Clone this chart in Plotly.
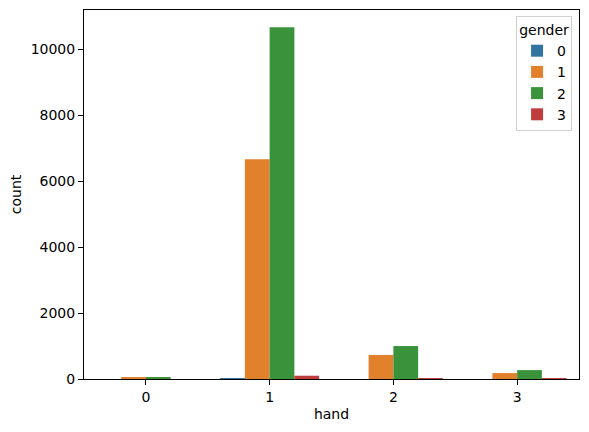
import plotly.graph_objects as go

# Seaborn countplot: count of rows per hand, split by gender.
hands = ["0", "1", "2", "3"]
genders = ["0", "1", "2", "3"]
counts = {
    "0": [0, 30, 0, 0],
    "1": [60, 6670, 730, 180],
    "2": [60, 10680, 1000, 270],
    "3": [0, 100, 30, 30],
}
colors = ["#3274a1", "#e1812c", "#3a923a", "#c03d3e"]
y_ticks = [0, 2000, 4000, 6000, 8000, 10000]

_FONT = "DejaVu Sans, sans-serif"
_SIZE = 14

fig = go.Figure()
for g, c in zip(genders, colors):
    fig.add_trace(
        go.Bar(
            x=hands,
            y=counts[g],
            name=g,
            marker=dict(color=c, line=dict(width=0)),
        )
    )

# page body adds an 8px offset, so margins are shifted to compensate
fig.update_layout(
    width=589,
    height=432,
    margin=dict(l=76, r=18, t=2, b=61),
    paper_bgcolor="white",
    plot_bgcolor="white",
    font=dict(family=_FONT, size=_SIZE, color="black"),
    barmode="group",
    bargap=0.2,
    bargroupgap=0,
    legend=dict(
        title=dict(text="gender", side="top center", font=dict(size=_SIZE)),
        x=0.986,
        y=0.984,
        xanchor="right",
        yanchor="top",
        bgcolor="rgba(255,255,255,0.8)",
        bordercolor="#d0d0d0",
        borderwidth=1,
        font=dict(size=_SIZE),
        itemwidth=30,
        tracegroupgap=0,
    ),
)
axis_style = dict(
    showline=True,
    linecolor="black",
    linewidth=1,
    mirror=True,
    ticks="outside",
    ticklen=5,
    tickcolor="black",
    tickfont=dict(family=_FONT, size=_SIZE),
    showgrid=False,
    zeroline=False,
)
fig.update_xaxes(
    title=dict(text="hand", standoff=5, font=dict(family=_FONT, size=_SIZE)),
    range=[-0.5, 3.5],
    **axis_style,
)
fig.update_yaxes(
    title=dict(text="count", standoff=8, font=dict(family=_FONT, size=_SIZE)),
    range=[0, 11200],
    tickvals=y_ticks,
    ticktext=[str(v) for v in y_ticks],
    **axis_style,
)

fig.write_html("out.html")
